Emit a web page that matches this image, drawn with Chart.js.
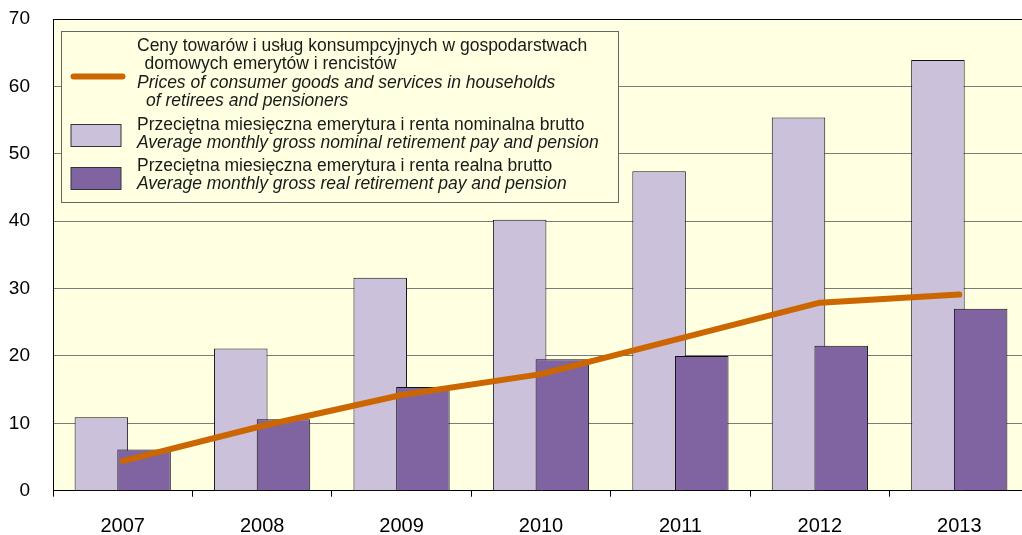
<!DOCTYPE html>
<html>
<head>
<meta charset="utf-8">
<script src="https://cdn.jsdelivr.net/npm/chart.js@4.4.0/dist/chart.umd.min.js"></script>
<style>
  html, body { margin: 0; padding: 0; background: #fff; overflow: hidden; }
  #wrap { position: absolute; left: 0; top: 0; width: 1029px; height: 535px; }
</style>
</head>
<body>
<div id="wrap"><canvas id="chart" width="1029" height="535"></canvas></div>
<script>
// lata
const years = ['2007', '2008', '2009', '2010', '2011', '2012', '2013'];

// ceny towarów i usług konsumpcyjnych w gospodarstwach emerytów i rencistów
const priceIndex = [4.4, 9.6, 14.2, 17.3, 22.6, 27.9, 29.1];
// przeciętna miesięczna emerytura i renta nominalna brutto
const nominalPension = [10.9, 21.1, 31.6, 40.2, 47.4, 55.4, 63.9];
// przeciętna miesięczna emerytura i renta realna brutto
const realPension = [6.1, 10.6, 15.4, 19.5, 20.0, 21.5, 27.0];

const yMin = 0;
const yMax = 70;
const yStep = 10;

// opisy legendy: [tekst, kursywa]
const legendPriceLines = [
  ['Ceny towarów i usług konsumpcyjnych w gospodarstwach', false],
  ['domowych emerytów i rencistów', false],
  ['Prices of consumer goods and services in households', true],
  ['of retirees and pensioners', true],
];
const legendNominalLines = [
  ['Przeciętna miesięczna emerytura i renta nominalna brutto', false],
  ['Average monthly gross nominal retirement pay and pension', true],
];
const legendRealLines = [
  ['Przeciętna miesięczna emerytura i renta realna brutto', false],
  ['Average monthly gross real retirement pay and pension', true],
];

const FONT = "'Liberation Sans', Arial, sans-serif";
const COLOR_LINE = '#CC6600';
const COLOR_NOMINAL = '#CCC1DA';
const COLOR_REAL = '#8064A2';
const COLOR_PLOT = '#FFFFE1';

/**
 * tło obszaru wykresu, górna krawędź i legenda w ramce
 */
const plotDecor = {
  id: 'plotDecor',
  beforeDraw(chart) {
    const ctx = chart.ctx;
    const area = chart.chartArea;
    ctx.save();
    ctx.fillStyle = COLOR_PLOT;
    ctx.fillRect(area.left, area.top, area.right - area.left, area.bottom - area.top);
    ctx.restore();
  },
  // słupki realne rysowane po nominalnych, żeby leżały na wierzchu
  beforeDatasetDraw(chart, args) {
    if (args.index === 2) return false;
  },
  afterDatasetDraw(chart, args) {
    if (args.index === 1) chart.getDatasetMeta(2).controller.draw();
  },
  afterDraw(chart) {
    const ctx = chart.ctx;
    const area = chart.chartArea;

    ctx.save();

    // górna krawędź
    ctx.strokeStyle = '#000';
    ctx.lineWidth = 1;
    ctx.beginPath();
    ctx.moveTo(area.left, Math.round(area.top) + 0.5);
    ctx.lineTo(area.right, Math.round(area.top) + 0.5);
    ctx.stroke();

    // ramka legendy
    const bx = Math.round(area.left + 8) + 0.5;
    const by = Math.round(area.top + 12) + 0.5;
    const bw = 557;
    const bh = 171;
    ctx.fillStyle = COLOR_PLOT;
    ctx.fillRect(bx, by, bw, bh);
    ctx.strokeStyle = '#666';
    ctx.strokeRect(bx, by, bw, bh);

    // znaczniki
    ctx.strokeStyle = COLOR_LINE;
    ctx.lineWidth = 6;
    ctx.lineCap = 'round';
    ctx.beginPath();
    ctx.moveTo(bx + 12, by + 45);
    ctx.lineTo(bx + 61, by + 45);
    ctx.stroke();

    ctx.lineWidth = 1;
    ctx.lineCap = 'butt';
    ctx.strokeStyle = '#333';
    ctx.fillStyle = COLOR_NOMINAL;
    ctx.fillRect(bx + 9.5, by + 93, 50, 22);
    ctx.strokeRect(bx + 9.5, by + 93, 50, 22);
    ctx.fillStyle = COLOR_REAL;
    ctx.fillRect(bx + 9.5, by + 136, 50, 22);
    ctx.strokeRect(bx + 9.5, by + 136, 50, 22);

    // teksty
    const tx = bx + 75.5;
    const drawLines = (lines, ys, indents) => {
      lines.forEach(([text, italic], i) => {
        ctx.font = `${italic ? 'italic ' : ''}17.5px ${FONT}`;
        ctx.fillText(text, tx + indents[i], by + ys[i]);
      });
    };
    ctx.fillStyle = '#1a1a1a';
    ctx.textAlign = 'left';
    ctx.textBaseline = 'middle';
    drawLines(legendPriceLines, [14.5, 33, 51.5, 70], [0, 7.5, 0, 9]);
    drawLines(legendNominalLines, [93.5, 111.5], [0, 0]);
    drawLines(legendRealLines, [135, 153], [0, 0]);

    ctx.restore();
  },
};

new Chart(document.getElementById('chart'), {
  data: {
    labels: years,
    datasets: [
      {
        type: 'line',
        data: priceIndex,
        order: 0,
        borderColor: COLOR_LINE,
        borderWidth: 6,
        borderCapStyle: 'round',
        borderJoinStyle: 'round',
        pointRadius: 0,
        tension: 0,
      },
      {
        type: 'bar',
        data: nominalPension,
        order: 1,
        backgroundColor: COLOR_NOMINAL,
        borderColor: '#111',
        borderWidth: 1,
      },
      {
        type: 'bar',
        data: realPension,
        order: 2,
        backgroundColor: COLOR_REAL,
        borderColor: '#111',
        borderWidth: 1,
      },
    ],
  },
  options: {
    responsive: false,
    animation: false,
    devicePixelRatio: 1,
    categoryPercentage: 0.6126,
    barPercentage: 1.253,
    layout: {
      padding: { top: 19, left: 0, right: 0, bottom: 0 },
    },
    scales: {
      x: {
        offset: true,
        grid: {
          offset: true,
          drawOnChartArea: false,
          drawTicks: true,
          tickLength: 6,
          color: '#000',
        },
        border: { color: '#000', width: 1 },
        ticks: {
          color: '#000',
          font: { family: FONT, size: 20 },
          padding: 18,
          maxRotation: 0,
        },
        afterFit: (scale) => {
          scale.height = 44.3;
          scale.paddingLeft = 0;
          scale.paddingRight = 0;
        },
      },
      y: {
        min: yMin,
        max: yMax,
        grid: {
          color: '#7a7a7a',
          lineWidth: 1,
          drawTicks: false,
        },
        border: { color: '#000', width: 1 },
        ticks: {
          stepSize: yStep,
          color: '#000',
          font: { family: FONT, size: 19 },
          padding: 23,
        },
        afterFit: (scale) => {
          scale.width = 53;
          scale.paddingTop = 0;
          scale.paddingBottom = 0;
        },
      },
    },
    plugins: {
      legend: { display: false },
      tooltip: { enabled: false },
    },
  },
  plugins: [plotDecor],
});
</script>
</body>
</html>
